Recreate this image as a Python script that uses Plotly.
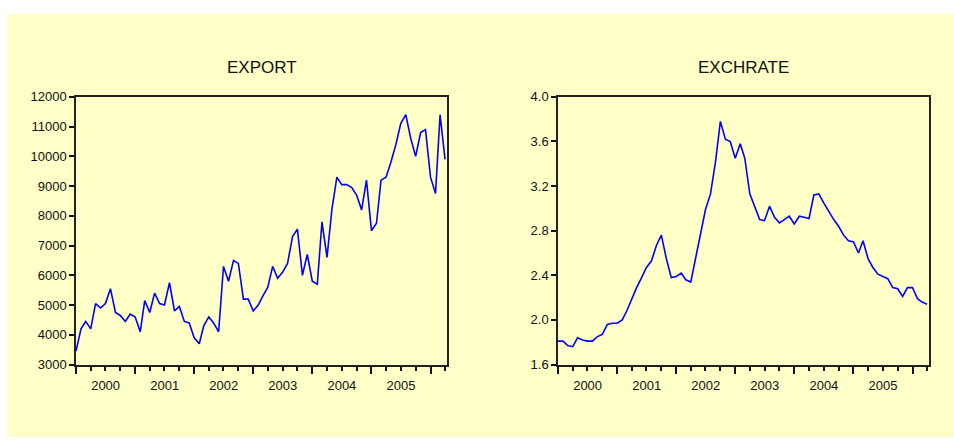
import plotly.graph_objects as go
import pandas as pd

W, H = 954, 445

dates = pd.date_range("2000-01-01", periods=76, freq="MS")

export = [3450, 4200, 4450, 4200, 5050, 4900, 5050, 5550, 4750, 4650, 4450, 4700,
          4600, 4100, 5150, 4750, 5400, 5050, 5000, 5750, 4800, 4950, 4450, 4400,
          3900, 3700, 4300, 4600, 4400, 4100, 6300, 5800, 6500, 6400, 5200, 5200,
          4800, 5000, 5300, 5600, 6300, 5900, 6100, 6400, 7300, 7550, 6000, 6700,
          5800, 5700, 7800, 6600, 8200, 9300, 9050, 9050, 8950, 8700, 8200, 9200,
          7500, 7750, 9200, 9300, 9800, 10400, 11100, 11400, 10600, 10000, 10800, 10900,
          9300, 8750, 11400, 9900]

exchrate = [1.81, 1.81, 1.77, 1.76, 1.84, 1.82, 1.81, 1.81, 1.85, 1.87, 1.96, 1.97,
            1.97, 2.00, 2.08, 2.19, 2.29, 2.38, 2.47, 2.53, 2.67, 2.76, 2.55, 2.38,
            2.39, 2.42, 2.36, 2.34, 2.55, 2.76, 2.99, 3.13, 3.42, 3.78, 3.62, 3.60,
            3.45, 3.58, 3.45, 3.13, 3.02, 2.90, 2.89, 3.02, 2.92, 2.87, 2.90, 2.93,
            2.86, 2.93, 2.92, 2.91, 3.12, 3.13, 3.05, 2.97, 2.90, 2.84, 2.76, 2.71,
            2.70, 2.60, 2.71, 2.55, 2.47, 2.41, 2.39, 2.37, 2.29, 2.28, 2.21, 2.29,
            2.29, 2.19, 2.16, 2.14]

titles = ["EXPORT", "EXCHRATE"]

# pixel boxes of the two plot areas
L1, R1 = 76, 447
L2, R2 = 558, 929
TOP, BOT = 93, 370

fig = go.Figure()
fig.add_trace(go.Scatter(x=dates, y=export, mode="lines",
                         line=dict(color="#0000FF", width=1.6),
                         xaxis="x", yaxis="y", showlegend=False))
fig.add_trace(go.Scatter(x=dates, y=exchrate, mode="lines",
                         line=dict(color="#0000FF", width=1.6),
                         xaxis="x2", yaxis="y2", showlegend=False))

font = dict(family="Arial, Liberation Sans, sans-serif", size=13, color="#111111")

xcommon = dict(type="date", range=["2000-01-01", "2006-04-13"],
               tick0="2000-01-01", dtick="M12", tickformat="%Y",
               ticklabelmode="period", ticks="outside", ticklen=8, tickwidth=1.5,
               tickcolor="#111111", showgrid=False, zeroline=False,
               showline=True, mirror=True, linecolor="#222222", linewidth=1.5,
               tickfont=font,
               minor=dict(dtick="M3", ticks="outside", ticklen=5, tickwidth=1.5,
                          tickcolor="#111111", showgrid=False))
ycommon = dict(ticks="outside", ticklen=5, tickwidth=1.5, tickcolor="#111111",
               showgrid=False, zeroline=False, showline=True, mirror=True,
               linecolor="#222222", linewidth=1.5, tickfont=font)

ydom = [(H - BOT) / H, (H - TOP) / H]
fig.update_layout(
    width=W, height=H,
    margin=dict(l=0, r=0, t=0, b=0),
    paper_bgcolor="white",
    plot_bgcolor="white",
    xaxis=dict(domain=[L1 / W, R1 / W], anchor="y", **xcommon),
    yaxis=dict(domain=ydom, anchor="x", range=[3000, 12000], dtick=1000,
               tick0=3000, tickformat="d", **ycommon),
    xaxis2=dict(domain=[L2 / W, R2 / W], anchor="y2", **xcommon),
    yaxis2=dict(domain=ydom, anchor="x2", range=[1.6, 4.0], dtick=0.4,
                tick0=1.6, tickformat=".1f", **ycommon),
    shapes=[dict(type="rect", xref="paper", yref="paper", x0=7 / W, x1=1,
                 y0=0, y1=1 - 7 / H, fillcolor="#FFFFC8", line=dict(width=0),
                 layer="below")],
    annotations=[
        dict(text=titles[0], x=(L1 + R1) / 2 / W, y=1 - 63 / H, xref="paper",
             yref="paper", showarrow=False, xanchor="center", yanchor="middle",
             font=dict(family="Arial, Liberation Sans, sans-serif", size=17,
                       color="#111111")),
        dict(text=titles[1], x=(L2 + R2) / 2 / W, y=1 - 63 / H, xref="paper",
             yref="paper", showarrow=False, xanchor="center", yanchor="middle",
             font=dict(family="Arial, Liberation Sans, sans-serif", size=17,
                       color="#111111")),
    ],
)

fig.write_html("out.html")
